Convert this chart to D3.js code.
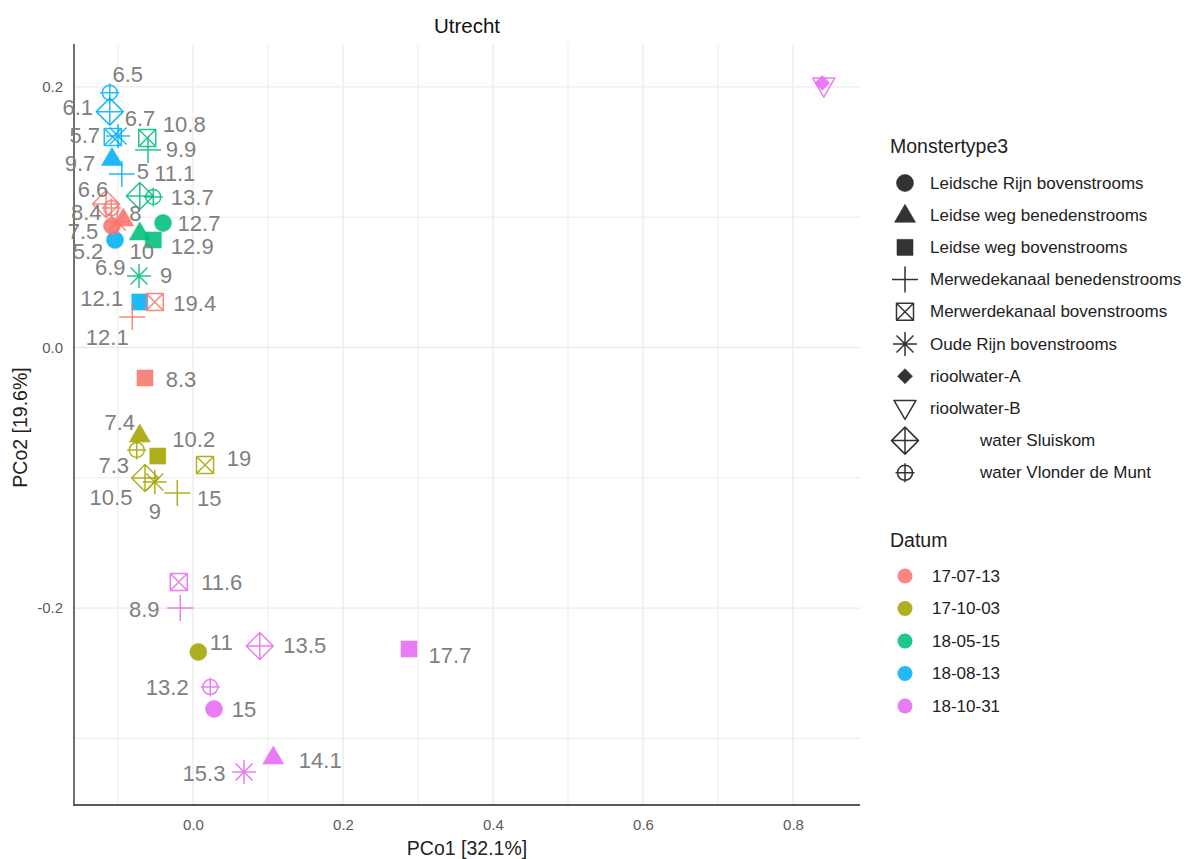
<!DOCTYPE html>
<html>
<head>
<meta charset="utf-8">
<script src="https://cdn.jsdelivr.net/npm/d3@7"></script>
<style>
  html, body { margin: 0; padding: 0; background: #ffffff; }
  svg { display: block; font-family: "Liberation Sans", Arial, sans-serif; }
</style>
</head>
<body>
<svg id="chart" width="1192" height="859"></svg>
<script>
// ---- Data -------------------------------------------------------------
const dates = ["17-07-13", "17-10-03", "18-05-15", "18-08-13", "18-10-31"];
const dateColors = ["#F8766D", "#A3A500", "#00BF7D", "#00B0F6", "#E76BF3"];

const monstertypes = [
  "Leidsche Rijn bovenstrooms",
  "Leidse weg benedenstrooms",
  "Leidse weg bovenstrooms",
  "Merwedekanaal benedenstrooms",
  "Merwerdekanaal bovenstrooms",
  "Oude Rijn bovenstrooms",
  "rioolwater-A",
  "rioolwater-B",
  "water Sluiskom",
  "water Vlonder de Munt"
];
const monstertypeShapes = ["circle", "triangle", "square", "plus", "squareCross",
  "asterisk", "diamond", "triangleDown", "diamondPlus", "circlePlus"];

// one entry per sample
const sampleDate = [
  // 18-08-13
  "18-08-13", "18-08-13", "18-08-13", "18-08-13", "18-08-13", "18-08-13", "18-08-13", "18-08-13",
  // 18-05-15
  "18-05-15", "18-05-15", "18-05-15", "18-05-15", "18-05-15", "18-05-15", "18-05-15", "18-05-15",
  // 17-07-13
  "17-07-13", "17-07-13", "17-07-13", "17-07-13", "17-07-13", "17-07-13", "17-07-13", "17-07-13",
  // 17-10-03
  "17-10-03", "17-10-03", "17-10-03", "17-10-03", "17-10-03", "17-10-03", "17-10-03", "17-10-03",
  // 18-10-31
  "18-10-31", "18-10-31", "18-10-31", "18-10-31", "18-10-31", "18-10-31", "18-10-31", "18-10-31",
  "18-10-31", "18-10-31"
];
const sampleType = [
  "water Vlonder de Munt", "water Sluiskom", "Merwerdekanaal bovenstrooms", "Oude Rijn bovenstrooms",
  "Leidse weg benedenstrooms", "Merwedekanaal benedenstrooms", "Leidsche Rijn bovenstrooms", "Leidse weg bovenstrooms",

  "Merwerdekanaal bovenstrooms", "Merwedekanaal benedenstrooms", "water Sluiskom", "water Vlonder de Munt",
  "Leidsche Rijn bovenstrooms", "Leidse weg benedenstrooms", "Leidse weg bovenstrooms", "Oude Rijn bovenstrooms",

  "water Sluiskom", "water Vlonder de Munt", "Leidse weg benedenstrooms", "Leidsche Rijn bovenstrooms",
  "Oude Rijn bovenstrooms", "Merwerdekanaal bovenstrooms", "Merwedekanaal benedenstrooms", "Leidse weg bovenstrooms",

  "Leidse weg benedenstrooms", "water Vlonder de Munt", "Leidse weg bovenstrooms", "Merwerdekanaal bovenstrooms",
  "water Sluiskom", "Oude Rijn bovenstrooms", "Merwedekanaal benedenstrooms", "Leidsche Rijn bovenstrooms",

  "Merwerdekanaal bovenstrooms", "Merwedekanaal benedenstrooms", "water Sluiskom", "Leidse weg bovenstrooms",
  "water Vlonder de Munt", "Leidsche Rijn bovenstrooms", "Leidse weg benedenstrooms", "Oude Rijn bovenstrooms",
  "rioolwater-A", "rioolwater-B"
];
const pco1 = [
  -0.111, -0.111, -0.107, -0.100, -0.108, -0.095, -0.104, -0.071,
  -0.061, -0.060, -0.071, -0.053, -0.040, -0.071, -0.053, -0.072,
  -0.116, -0.109, -0.093, -0.108, -0.101, -0.051, -0.081, -0.064,
  -0.071, -0.075, -0.047, 0.016, -0.064, -0.051, -0.021, 0.007,
  -0.019, -0.017, 0.089, 0.288, 0.023, 0.028, 0.107, 0.068,
  0.839, 0.841
];
const pco2 = [
  0.1955, 0.181, 0.1616, 0.1623, 0.1451, 0.1332, 0.0825, 0.0349,
  0.1608, 0.1515, 0.1163, 0.1155, 0.0955, 0.0879, 0.0825, 0.0549,
  0.1101, 0.107, 0.0986, 0.0932, 0.0963, 0.0349, 0.0234, -0.0234,
  -0.0672, -0.0787, -0.0833, -0.0902, -0.1002, -0.1032, -0.1117, -0.2337,
  -0.180, -0.1999, -0.2291, -0.2314, -0.2606, -0.2774, -0.3143, -0.3258,
  0.2029, 0.2006
];
const sampleLabel = [
  "6.5", "6.1", "5.7", "6.7", "9.7", "5", "5.2", "12.1",
  "10.8", "9.9", "11.1", "13.7", "12.7", "10", "12.9", "9",
  "6.6", "8.4", "8", "7.5", "6.9", "19.4", "12.1", "8.3",
  "7.4", "7.3", "10.2", "19", "10.5", "9", "15", "11",
  "11.6", "8.9", "13.5", "17.7", "13.2", "15", "14.1", "15.3",
  "", ""
];

const xTicks = [0.0, 0.2, 0.4, 0.6, 0.8];
const yTicks = [-0.2, 0.0, 0.2];

// ---- Layout -------------------------------------------------------------
// label displacement (px) so the text labels do not overlap their markers
const labelShift = [
  [18, -18], [-32, -4], [-28, -1], [22, -17], [-32, 5], [21, -2], [-27, 12], [-38, -4],
  [37, -13], [33, -1], [35, -22], [39, 1], [36, 0], [2, 19], [39, 7], [27, 0],
  [-13, -15], [-25, 4], [12, -6], [-29, 5], [-7, 45], [40, 1], [-25, 21], [36, 2],
  [-20, -13], [-23, 15], [36, -17], [34, -7], [-34, 19], [0, 30], [32, 5], [23, -10],
  [43, 0], [-36, 2], [45, -1], [41, 6], [-43, 0], [30, 1], [47, 3], [-40, 1],
  [0, 0], [0, 0]
];

const panel = { left: 74, right: 860, top: 44, bottom: 805 };

const svg = d3.select("#chart");

const x = d3.scaleLinear().domain([-0.1587, 0.8893]).range([panel.left, panel.right]);
const y = d3.scaleLinear().domain([-0.3511, 0.2329]).range([panel.bottom, panel.top]);
const color = d3.scaleOrdinal().domain(dates).range(dateColors);
const shape = d3.scaleOrdinal().domain(monstertypes).range(monstertypeShapes);

// ---- Marker shapes (ggplot-style point shapes) --------------------------
function shapePath(kind) {
  const p = d3.path();
  switch (kind) {
    case "circle":
      p.arc(0, 0, 8.5, 0, 2 * Math.PI); p.closePath(); break;
    case "triangle":
      p.moveTo(0, -11); p.lineTo(10.5, 7); p.lineTo(-10.5, 7); p.closePath(); break;
    case "square":
      p.rect(-8, -8, 16, 16); break;
    case "plus":
      p.moveTo(-13, 0); p.lineTo(13, 0); p.moveTo(0, -13); p.lineTo(0, 13); break;
    case "squareCross":
      p.rect(-8.5, -8.5, 17, 17);
      p.moveTo(-8.5, -8.5); p.lineTo(8.5, 8.5); p.moveTo(8.5, -8.5); p.lineTo(-8.5, 8.5); break;
    case "asterisk": {
      const r = 12, d = r * Math.SQRT1_2;
      p.moveTo(-r, 0); p.lineTo(r, 0); p.moveTo(0, -r); p.lineTo(0, r);
      p.moveTo(-d, -d); p.lineTo(d, d); p.moveTo(d, -d); p.lineTo(-d, d); break;
    }
    case "diamond":
      p.moveTo(0, -7.5); p.lineTo(7.5, 0); p.lineTo(0, 7.5); p.lineTo(-7.5, 0); p.closePath(); break;
    case "triangleDown":
      p.moveTo(-11, -8); p.lineTo(11, -8); p.lineTo(0, 11); p.closePath(); break;
    case "diamondPlus": {
      const r = 13.5;
      p.moveTo(0, -r); p.lineTo(r, 0); p.lineTo(0, r); p.lineTo(-r, 0); p.closePath();
      p.moveTo(-r, 0); p.lineTo(r, 0); p.moveTo(0, -r); p.lineTo(0, r); break;
    }
    case "circlePlus":
      p.moveTo(7.5, 0); p.arc(0, 0, 7.5, 0, 2 * Math.PI);
      p.moveTo(-9.5, 0); p.lineTo(9.5, 0); p.moveTo(0, -9.5); p.lineTo(0, 9.5); break;
  }
  return p.toString();
}
const filledShapes = new Set(["circle", "triangle", "square", "diamond"]);

function drawShape(sel, kind, col) {
  const filled = filledShapes.has(kind);
  sel.append("path")
    .attr("d", shapePath(kind))
    .attr("fill", filled ? col : "none")
    .attr("stroke", col)
    .attr("stroke-width", filled ? 0.6 : 1.5)
    .attr("stroke-linejoin", "round");
}

// ---- Grid -------------------------------------------------------------
const grid = svg.append("g");
const xMinor = d3.range(-0.1, 0.85, 0.2);
const yMinor = [-0.3, -0.1, 0.1];
grid.selectAll("line.xminor").data(xMinor).join("line")
  .attr("x1", d => x(d)).attr("x2", d => x(d))
  .attr("y1", panel.top).attr("y2", panel.bottom)
  .attr("stroke", "#EBEBEB").attr("stroke-width", 1);
grid.selectAll("line.yminor").data(yMinor).join("line")
  .attr("y1", d => y(d)).attr("y2", d => y(d))
  .attr("x1", panel.left).attr("x2", panel.right)
  .attr("stroke", "#EBEBEB").attr("stroke-width", 1);
grid.selectAll("line.xmajor").data(xTicks).join("line")
  .attr("x1", d => x(d)).attr("x2", d => x(d))
  .attr("y1", panel.top).attr("y2", panel.bottom)
  .attr("stroke", "#EBEBEB").attr("stroke-width", 1.3);
grid.selectAll("line.ymajor").data(yTicks).join("line")
  .attr("y1", d => y(d)).attr("y2", d => y(d))
  .attr("x1", panel.left).attr("x2", panel.right)
  .attr("stroke", "#EBEBEB").attr("stroke-width", 1.3);

// ---- Axes -------------------------------------------------------------
const xAxis = svg.append("g")
  .attr("transform", `translate(0,${panel.bottom})`)
  .call(d3.axisBottom(x).tickValues(xTicks).tickFormat(d3.format(".1f")).tickSize(0).tickPadding(14));
const yAxis = svg.append("g")
  .attr("transform", `translate(${panel.left},0)`)
  .call(d3.axisLeft(y).tickValues(yTicks).tickFormat(d => d3.format(".1f")(d).replace("−", "-")).tickSize(0).tickPadding(11));
[xAxis, yAxis].forEach(a => {
  a.attr("font-size", 15);
  a.select(".domain").remove();
  a.selectAll("text").attr("fill", "#5a5a5a").attr("font-size", 15)
    .attr("font-family", "'Liberation Sans', Arial, sans-serif");
});

svg.append("line")
  .attr("x1", panel.left).attr("x2", panel.left)
  .attr("y1", panel.top).attr("y2", panel.bottom + 0.5)
  .attr("stroke", "#222").attr("stroke-width", 1.3);
svg.append("line")
  .attr("x1", panel.left - 0.5).attr("x2", panel.right)
  .attr("y1", panel.bottom).attr("y2", panel.bottom)
  .attr("stroke", "#222").attr("stroke-width", 1.3);

// titles
svg.append("text")
  .attr("x", (panel.left + panel.right) / 2).attr("y", 33)
  .attr("text-anchor", "middle").attr("font-size", 20.5).attr("fill", "#111")
  .text("Utrecht");
svg.append("text")
  .attr("x", (panel.left + panel.right) / 2).attr("y", 855)
  .attr("text-anchor", "middle").attr("font-size", 19.5).attr("fill", "#222")
  .text("PCo1 [32.1%]");
svg.append("text")
  .attr("transform", `translate(27,${(panel.top + panel.bottom) / 2 + 3}) rotate(-90)`)
  .attr("text-anchor", "middle").attr("font-size", 19.5).attr("fill", "#222")
  .text("PCo2 [19.6%]");

// ---- Points -------------------------------------------------------------
const samples = sampleDate.map((d, i) => ({
  date: d, type: sampleType[i], x: pco1[i], y: pco2[i], label: sampleLabel[i], shift: labelShift[i]
}));

const pts = svg.append("g").selectAll("g.pt").data(samples).join("g")
  .attr("class", "pt")
  .attr("transform", d => `translate(${x(d.x)},${y(d.y)})`)
  .attr("opacity", 0.88);
pts.each(function (d) { drawShape(d3.select(this), shape(d.type), color(d.date)); });

// value labels
svg.append("g").selectAll("text").data(samples.filter(d => d.label !== "")).join("text")
  .attr("x", d => x(d.x) + d.shift[0])
  .attr("y", d => y(d.y) + d.shift[1])
  .attr("text-anchor", "middle").attr("dominant-baseline", "central")
  .attr("font-size", 22).attr("fill", "#808080")
  .text(d => d.label);

// ---- Legends -------------------------------------------------------------
const legend = svg.append("g");
legend.append("text").attr("x", 890).attr("y", 153)
  .attr("font-size", 19.5).attr("fill", "#222").text("Monstertype3");
const shapeRows = legend.selectAll("g.srow").data(monstertypes).join("g")
  .attr("transform", (d, i) => `translate(905,${183 + i * 32.2})`);
shapeRows.each(function (d) { drawShape(d3.select(this), shape(d), "#333333"); });
shapeRows.append("text")
  .attr("x", d => d.startsWith("water") ? 75 : 25).attr("y", 0)
  .attr("dominant-baseline", "central").attr("font-size", 17).attr("fill", "#222")
  .text(d => d);

legend.append("text").attr("x", 890).attr("y", 547)
  .attr("font-size", 19.5).attr("fill", "#222").text("Datum");
const dateRows = legend.selectAll("g.drow").data(dates).join("g")
  .attr("transform", (d, i) => `translate(905,${576 + i * 32.5})`);
dateRows.append("circle").attr("r", 7.5).attr("fill", d => color(d)).attr("opacity", 0.88);
dateRows.append("text").attr("x", 27).attr("y", 0)
  .attr("dominant-baseline", "central").attr("font-size", 17).attr("fill", "#222")
  .text(d => d);
</script>
</body>
</html>
